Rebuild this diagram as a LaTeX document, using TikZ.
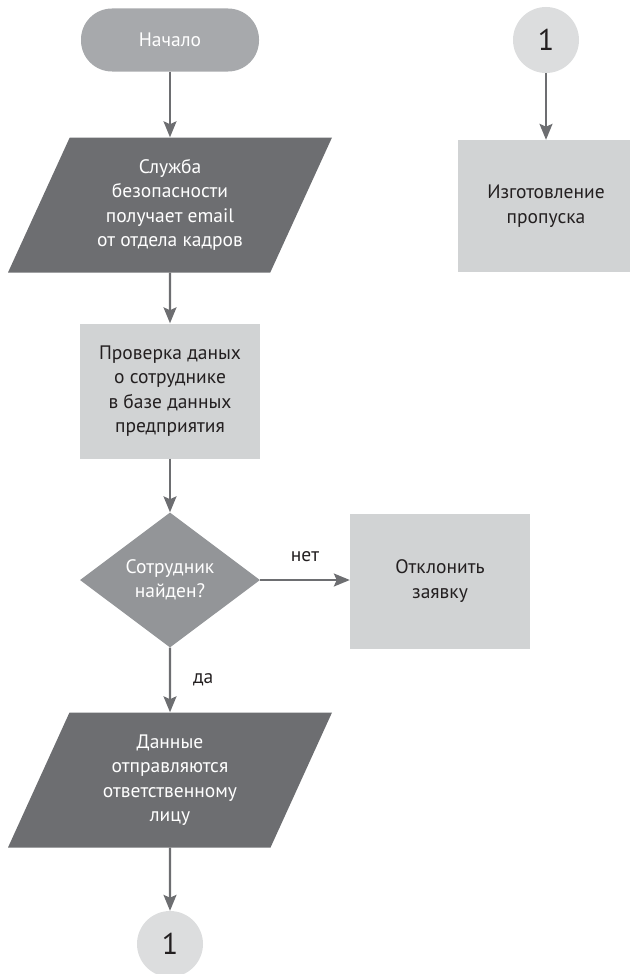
\documentclass[tikz,border=0pt]{standalone}
\usepackage{fontspec}
\setmainfont{PT Sans}
\usetikzlibrary{positioning,arrows.meta,shapes.geometric}
\definecolor{termgray}{HTML}{A7A9AC}
\definecolor{iogray}{HTML}{6D6E71}
\definecolor{decgray}{HTML}{939598}
\definecolor{procgray}{HTML}{D1D3D4}
\definecolor{linkgray}{HTML}{DCDDDE}
\definecolor{inkgray}{HTML}{231F20}

\begin{document}
\begin{tikzpicture}[x=1pt,y=-1pt,
  every node/.style={font=\fontsize{19.5}{24.5}\selectfont,align=center,inner sep=0pt},
  terminal/.style={fill=termgray,text=white,rounded corners=31pt,minimum width=178pt,minimum height=63pt},
  iobox/.style={trapezium,trapezium left angle=56,trapezium right angle=124,trapezium stretches body,
    fill=iogray,text=white,minimum width=324pt,minimum height=135pt},
  procbox/.style={fill=procgray,text=inkgray,minimum width=180pt,minimum height=135pt},
  decision/.style={diamond,fill=decgray,text=white,minimum width=180pt,minimum height=135pt},
  connector/.style={circle,fill=linkgray,text=inkgray,minimum size=66pt,font=\fontsize{30}{30}\selectfont},
  flow/.style={draw=iogray,line width=2.2pt,-{Stealth[length=16pt,width=13pt,inset=3pt]}},
  tag/.style={text=inkgray}]
\useasboundingbox (0,0) rectangle (629,974);
\node[terminal] (start) at (170,40) {Начало};
\node[iobox] (mail) at (170,205) {Служба\\безопасности\\получает email\\от отдела кадров};
\node[procbox] (check) at (170,391) {Проверка даных\\о сотруднике\\в базе данных\\предприятия};
\node[decision] (found) at (170,580) {Сотрудник\\найден?};
\node[procbox] (reject) at (440,581) {Отклонить\\заявку};
\node[iobox] (send) at (170,780) {Данные\\отправляются\\ответственному\\лицу};
\node[connector] (linkout) at (170,944) {1};
\node[connector] (linkin) at (546,40) {1};
\node[procbox,minimum width=176pt,minimum height=132pt] (pass) at (546,206) {Изготовление\\пропуска};
\draw[flow] (start) -- (mail);
\draw[flow] (mail) -- (check);
\draw[flow] (check) -- (found);
\draw[flow] (found.east) -- node[tag,above=17pt] {нет} (reject.west |- found.east);
\draw[flow] (found.south) -- node[tag,right=22pt] {да} (send);
\draw[flow] (send) -- (linkout);
\draw[flow] (linkin) -- (pass);
\end{tikzpicture}
\end{document}
